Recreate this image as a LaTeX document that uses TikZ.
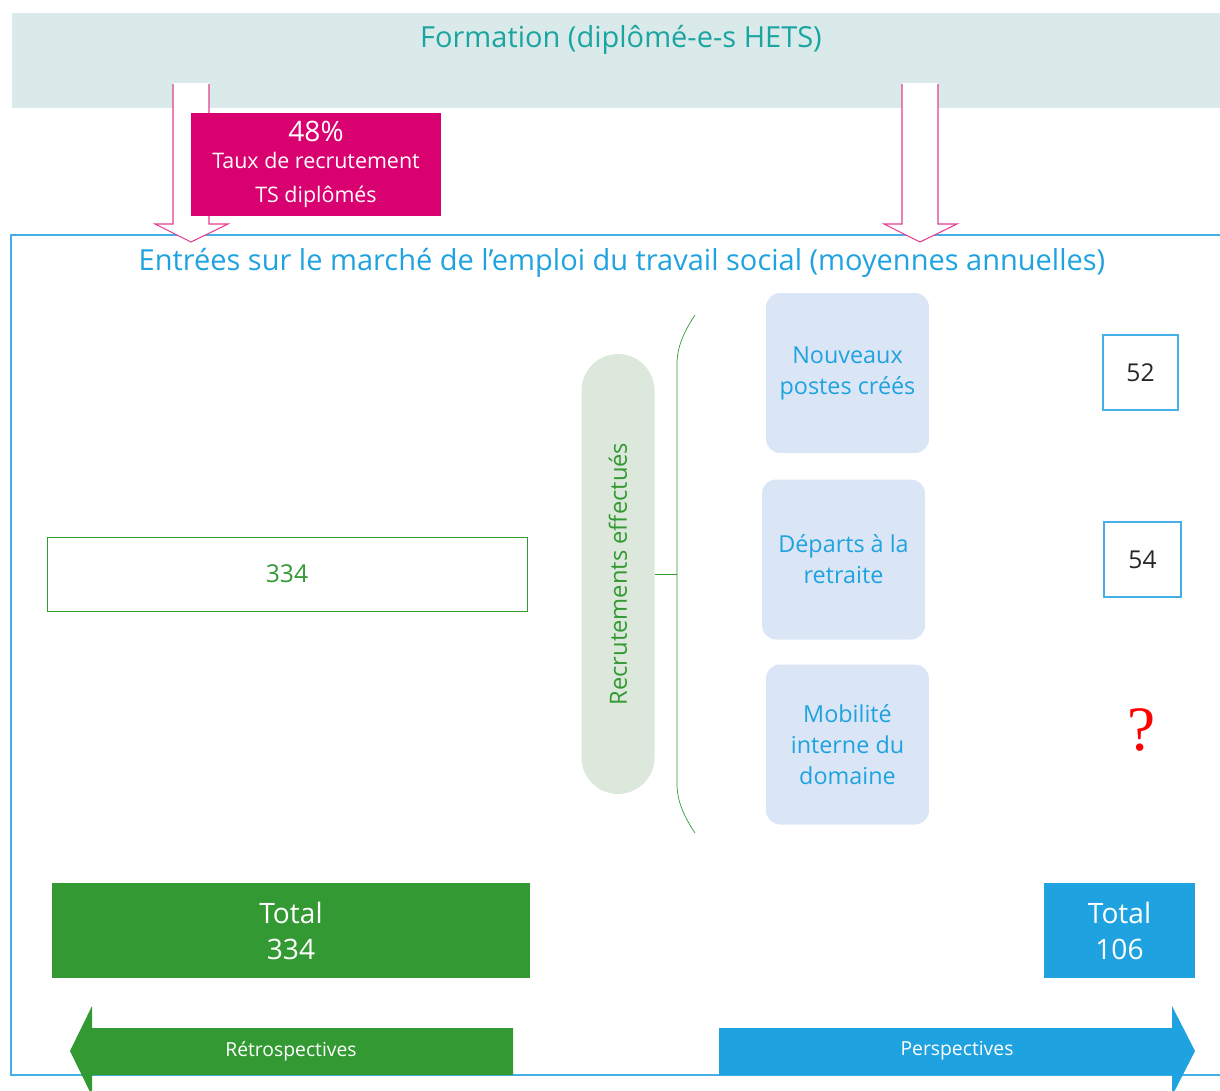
\documentclass[tikz,border=0pt]{standalone}
\usepackage{fontspec}
\setmainfont{Open Sans}
\newfontfamily\qfont{Liberation Serif}
\usetikzlibrary{shapes.misc}

\definecolor{bandgray}{RGB}{218,234,234}
\definecolor{titleteal}{RGB}{26,165,160}
\definecolor{ratepink}{RGB}{217,0,111}
\definecolor{pipepink}{RGB}{226,62,143}
\definecolor{hetsblue}{RGB}{31,162,224}
\definecolor{frameblue}{RGB}{70,175,230}
\definecolor{hetsgreen}{RGB}{51,153,51}
\definecolor{pillgreen}{RGB}{220,232,220}
\definecolor{topicblue}{RGB}{218,230,246}
\definecolor{darktext}{RGB}{38,38,38}

\begin{document}
\begin{tikzpicture}[
    x=0.02cm, y=-0.02cm,
    every node/.style={align=center, inner sep=0pt, font=\fontsize{13.3}{17.6}\selectfont},
    heading/.style={font=\fontsize{16.5}{18}\selectfont},
    topic/.style={rounded corners=8pt, fill=topicblue, text=hetsblue, minimum width=3.26cm, minimum height=3.2cm},
    count/.style={draw=frameblue, line width=0.7pt, text=darktext, minimum width=1.5cm, minimum height=1.5cm, font=\fontsize{14}{16}\selectfont},
    total/.style={text=white, minimum height=1.9cm, font=\fontsize{16}{20.5}\selectfont},
    pipe/.style={draw=pipepink, semithick}
  ]
    \useasboundingbox (0,0) rectangle (1220,1090);

    % formation band
    \fill[bandgray] (12,13) rectangle (1220,108);
    \node[heading, text=titleteal] (formation) at (621,40) {Formation (diplômé-e-s HETS)};

    % job market frame, open on the right
    \draw[frameblue, line width=0.7pt] (1230,235) -- (11,235) -- (11,1075) -- (1230,1075);

    % hollow arrows from the band down to the market
    \foreach \x in {191, 920} {
      \fill[white] (\x-18,83) -- (\x-18,224) -- (\x-36,224) -- (\x,242) -- (\x+37,224) -- (\x+18,224) -- (\x+18,83) -- cycle;
      \draw[pipe] (\x-18,84) -- (\x-18,224) -- (\x-36,224) -- (\x,242) -- (\x+37,224) -- (\x+18,224) -- (\x+18,84);
    }

    \node[fill=ratepink, text=white, minimum width=5cm, minimum height=2.06cm] (rate) at (316,164.5) {};
    \node[text=white, font=\fontsize{16}{18}\selectfont] (ratevalue) at (316,131) {48\%};
    \node[text=white, font=\fontsize{12.2}{19}\selectfont] (ratelabel) at (316,180) {Taux de recrutement\\TS diplômés};

    \node[heading, text=hetsblue] (market) at (622,263) {Entrées sur le marché de l’emploi du travail social (moyennes annuelles)};

    % past recruitments
    \node[draw=hetsgreen, text=hetsgreen, minimum width=9.6cm, minimum height=1.48cm, font=\fontsize{14}{16}\selectfont] (past) at (287,574) {334};
    \node[rounded rectangle, rotate=90, fill=pillgreen, text=hetsgreen, minimum width=8.8cm, minimum height=1.46cm, font=\fontsize{13.5}{14}\selectfont] (recrut) at (618,574) {Recrutements effectués};

    \coordinate (brace) at (677,574);
    \draw[hetsgreen] (695,315) .. controls (683,333) and (677,348) .. (677,364) -- (677,784) .. controls (677,800) and (683,815) .. (695,833);
    \draw[hetsgreen] (recrut.south) -- (brace);

    % sources of future openings
    \node[topic] (newposts) at (847.5,373) {Nouveaux\\postes créés};
    \node[topic] (retire) at (843.5,559.5) {Départs à la\\retraite};
    \node[topic] (mobility) at (847.5,744.5) {Mobilité\\interne du\\domaine};

    \node[count] (newcount) at (1140.5,372.5) {52};
    \node[count, minimum width=1.54cm] (retirecount) at (1142.5,559.5) {54};
    \node[text=red, font=\qfont\fontsize{36}{36}\selectfont] (mobilitycount) at (1142,730) {?};

    % totals
    \node[total, fill=hetsgreen, minimum width=9.56cm] (pasttotal) at (291,930.5) {Total\\334};
    \node[total, fill=hetsblue, minimum width=3.02cm] (futuretotal) at (1119.5,930.5) {Total\\106};

    % time direction arrows
    \fill[hetsgreen] (513,1028) -- (92,1028) -- (92,1006) -- (70,1051) -- (92,1096) -- (92,1075) -- (513,1075) -- cycle;
    \fill[hetsblue] (719,1028) -- (1172,1028) -- (1172,1006) -- (1195,1051) -- (1172,1096) -- (1172,1075) -- (719,1075) -- cycle;
    \node[text=white, font=\fontsize{11}{12}\selectfont] (retro) at (291,1051) {Rétrospectives};
    \node[text=white, font=\fontsize{11}{12}\selectfont] (persp) at (957,1051) {Perspectives};
  \end{tikzpicture}
\end{document}
